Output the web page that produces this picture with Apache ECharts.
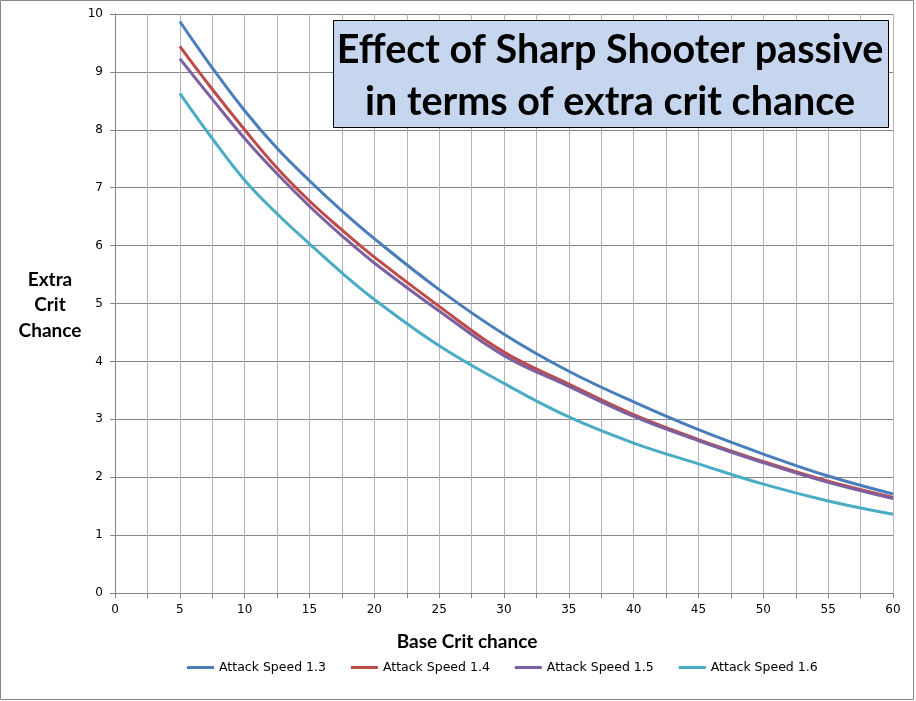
<!DOCTYPE html>
<html>
<head>
<meta charset="utf-8">
<script src="https://cdn.jsdelivr.net/npm/echarts@6/dist/echarts.min.js"></script>
<style>
  html, body { margin: 0; padding: 0; background: #fff; }
  #main { width: 916px; height: 701px; }
</style>
</head>
<body>
<div id="main"></div>
<script>
// base crit chance (x) and extra crit chance per attack speed
var baseCrit = [5, 7.5, 10, 12.5, 15, 17.5, 20, 25, 30, 35, 40, 45, 50, 55, 60];
var as13 = [9.87, 9.07, 8.33, 7.68, 7.12, 6.60, 6.12, 5.24, 4.47, 3.83, 3.30, 2.82, 2.40, 2.02, 1.71];
var as14 = [9.44, 8.70, 8.00, 7.34, 6.77, 6.27, 5.80, 4.95, 4.16, 3.61, 3.08, 2.65, 2.27, 1.93, 1.65];
var as15 = [9.23, 8.53, 7.85, 7.24, 6.68, 6.17, 5.70, 4.87, 4.10, 3.57, 3.05, 2.63, 2.25, 1.91, 1.63];
var as16 = [8.63, 7.85, 7.13, 6.55, 6.03, 5.53, 5.07, 4.27, 3.62, 3.04, 2.59, 2.23, 1.88, 1.59, 1.36];
var seriesNames = ["Attack Speed 1.3", "Attack Speed 1.4", "Attack Speed 1.5", "Attack Speed 1.6"];
var colors = ["#4a7ebb", "#be4b48", "#7d60a0", "#4bacc6"];

function pairs(ys) {
    var out = [];
    for (var i = 0; i < baseCrit.length; i++) out.push([baseCrit[i], ys[i]]);
    return out;
}

var myChart = echarts.init(document.getElementById('main'), null, { renderer: 'canvas' });
var allData = [as13, as14, as15, as16];

var option = {
    backgroundColor: "#ffffff",
    animation: false,
    color: colors,
    grid: { left: 115, right: 23, top: 14, bottom: 108 },
    legend: {
        bottom: 22,
        left: 182,
        icon: 'rect',
        itemWidth: 27,
        itemHeight: 3,
        itemGap: 25,
        textStyle: { fontFamily: "DejaVu Sans", fontSize: 12.5, color: "#000" },
        data: seriesNames
    },
    xAxis: {
        type: "value",
        min: 0,
        max: 60,
        interval: 2.5,
        axisLine: { lineStyle: { color: "#868686", width: 1 } },
        axisTick: { show: true, inside: false, length: 5, lineStyle: { color: "#868686" } },
        axisLabel: {
            margin: 11,
            fontFamily: "DejaVu Sans",
            fontSize: 12,
            color: "#000",
            formatter: function (v) { return v % 5 === 0 ? String(v) : ""; }
        },
        splitLine: { show: true, lineStyle: { color: "#b6b2c6", width: 1 } }
    },
    yAxis: {
        type: "value",
        min: 0,
        max: 10,
        interval: 1,
        axisLine: { show: true, lineStyle: { color: "#868686", width: 1 } },
        axisTick: { show: true, inside: false, length: 5, lineStyle: { color: "#868686" } },
        axisLabel: { margin: 12, fontFamily: "DejaVu Sans", fontSize: 12, color: "#000" },
        splitLine: { show: true, lineStyle: { color: "#868686", width: 1 } }
    },
    series: allData.map(function (ys, i) {
        return {
            name: seriesNames[i],
            type: "line",
            data: pairs(ys),
            smooth: 0.4,
            showSymbol: false,
            symbol: "none",
            lineStyle: { width: 3, color: colors[i] },
            z: 2 + i
        };
    }),
    graphic: [
        { // outer border
            type: "rect",
            shape: { x: 0.5, y: 0.5, width: 913, height: 699 },
            style: { fill: null, stroke: "#888888", lineWidth: 1 },
            silent: true
        },
        {
            type: "rect",
            shape: { x: 333.5, y: 20.5, width: 555, height: 107 },
            style: { fill: "#c6d6ee", stroke: "#000000", lineWidth: 1 },
            z: 100
        },
        {
            type: "text",
            x: 610,
            y: 76,
            z: 101,
            style: {
                text: "Effect of Sharp Shooter passive\nin terms of extra crit chance",
                fontFamily: "Lato",
                fontWeight: "bold",
                fontSize: 39.5,
                lineHeight: 52,
                fill: "#000",
                align: "center",
                verticalAlign: "middle"
            }
        },
        {
            type: "text",
            x: 50,
            y: 305,
            style: {
                text: "Extra\nCrit\nChance",
                fontFamily: "Lato",
                fontWeight: "bold",
                fontSize: 19,
                lineHeight: 25.5,
                fill: "#000",
                align: "center",
                verticalAlign: "middle"
            }
        },
        {
            type: "text",
            x: 467,
            y: 642,
            style: {
                text: "Base Crit chance",
                fontFamily: "Lato",
                fontWeight: "bold",
                fontSize: 19,
                fill: "#000",
                align: "center",
                verticalAlign: "middle"
            }
        }
    ]
};

myChart.setOption(option);
</script>
</body>
</html>
